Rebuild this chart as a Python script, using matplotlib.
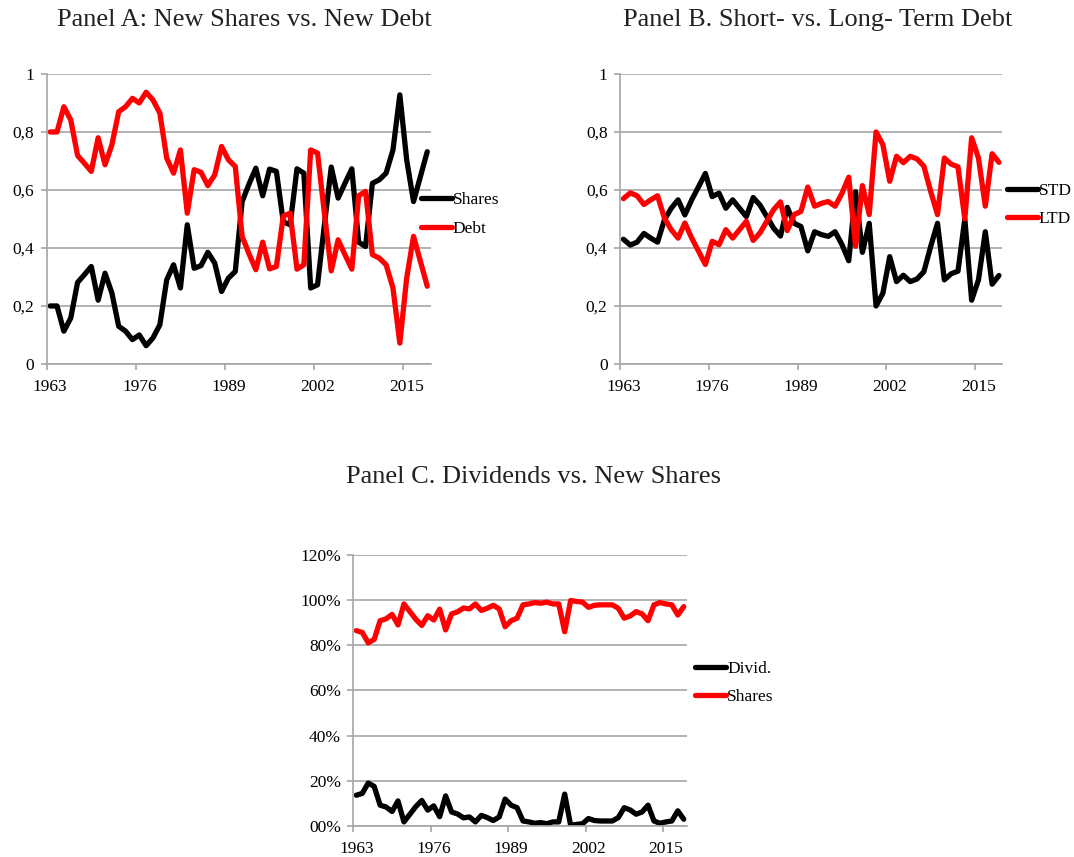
import matplotlib
matplotlib.use("Agg")
import matplotlib.pyplot as plt

plt.rcParams['font.family'] = ['Liberation Serif', 'DejaVu Serif']

years = list(range(1963, 2019))
label_years = [1963, 1976, 1989, 2002, 2015]

# Panel A: new shares vs new debt (fractions)
shares_a = [0.20, 0.20, 0.113, 0.158, 0.281, 0.308, 0.336, 0.22, 0.313, 0.245,
            0.13, 0.113, 0.084, 0.10, 0.063, 0.09, 0.135, 0.29, 0.342, 0.262,
            0.48, 0.33, 0.339, 0.385, 0.348, 0.25, 0.296, 0.319, 0.56, 0.62,
            0.675, 0.58, 0.672, 0.664, 0.49, 0.48, 0.673, 0.658, 0.262, 0.273,
            0.48, 0.679, 0.572, 0.623, 0.673, 0.42, 0.405, 0.623, 0.635, 0.658,
            0.738, 0.928, 0.704, 0.56, 0.646, 0.732]
debt_a = [0.80, 0.80, 0.887, 0.842, 0.719, 0.692, 0.664, 0.78, 0.687, 0.755,
          0.87, 0.887, 0.916, 0.90, 0.937, 0.91, 0.865, 0.71, 0.658, 0.738,
          0.52, 0.67, 0.661, 0.615, 0.652, 0.75, 0.704, 0.681, 0.44, 0.38,
          0.325, 0.42, 0.328, 0.336, 0.51, 0.52, 0.327, 0.342, 0.738, 0.727,
          0.52, 0.321, 0.428, 0.377, 0.327, 0.58, 0.595, 0.377, 0.365, 0.342,
          0.262, 0.072, 0.296, 0.44, 0.354, 0.268]

# Panel B: short- vs long-term debt
std_b = [0.43, 0.41, 0.42, 0.45, 0.434, 0.42, 0.497, 0.537, 0.566, 0.514,
         0.566, 0.611, 0.657, 0.577, 0.589, 0.537, 0.566, 0.537, 0.508, 0.574,
         0.548, 0.508, 0.468, 0.441, 0.54, 0.485, 0.474, 0.39, 0.456, 0.446,
         0.44, 0.456, 0.412, 0.356, 0.594, 0.385, 0.485, 0.20, 0.244, 0.37,
         0.284, 0.306, 0.284, 0.293, 0.318, 0.405, 0.485, 0.29, 0.311, 0.32,
         0.50, 0.22, 0.29, 0.456, 0.275, 0.305]
ltd_b = [0.57, 0.59, 0.58, 0.55, 0.566, 0.58, 0.503, 0.463, 0.434, 0.486,
         0.434, 0.389, 0.343, 0.423, 0.411, 0.463, 0.434, 0.463, 0.492, 0.426,
         0.452, 0.492, 0.532, 0.559, 0.46, 0.515, 0.526, 0.61, 0.544, 0.554,
         0.56, 0.544, 0.588, 0.644, 0.406, 0.615, 0.515, 0.80, 0.756, 0.63,
         0.716, 0.694, 0.716, 0.707, 0.682, 0.595, 0.515, 0.71, 0.689, 0.68,
         0.50, 0.78, 0.71, 0.544, 0.725, 0.695]

# Panel C: dividends vs new shares (percent)
divid_c = [13.6, 14.4, 19.0, 17.5, 9.2, 8.4, 6.4, 11.1, 1.8, 5.2,
           8.6, 11.3, 7.0, 8.9, 4.1, 13.3, 6.2, 5.3, 3.6, 4.0,
           1.8, 4.7, 3.7, 2.4, 4.0, 11.9, 9.2, 8.1, 2.2, 1.8,
           1.2, 1.5, 1.0, 1.8, 1.8, 14.1, 0.3, 0.7, 1.0, 3.3,
           2.4, 2.2, 2.2, 2.2, 3.7, 8.1, 7.1, 5.2, 6.2, 9.2,
           2.2, 1.2, 1.8, 2.2, 6.7, 3.0]
shares_c = [86.4, 85.6, 81.0, 82.5, 90.8, 91.6, 93.6, 88.9, 98.2, 94.8,
            91.4, 88.7, 93.0, 91.1, 95.9, 86.7, 93.8, 94.7, 96.4, 96.0,
            98.2, 95.3, 96.3, 97.6, 96.0, 88.1, 90.8, 91.9, 97.8, 98.2,
            98.8, 98.5, 99.0, 98.2, 98.2, 85.9, 99.7, 99.3, 99.0, 96.7,
            97.6, 97.8, 97.8, 97.8, 96.3, 91.9, 92.9, 94.8, 93.8, 90.8,
            97.8, 98.8, 98.2, 97.8, 93.3, 97.0]

yticks_ab = [0, 0.2, 0.4, 0.6, 0.8, 1.0]
ylabels_ab = ['0', '0,2', '0,4', '0,6', '0,8', '1']
yticks_c = [0, 20, 40, 60, 80, 100, 120]
ylabels_c = ['00%', '20%', '40%', '60%', '80%', '100%', '120%']

GRID = '#a6a6a6'
LW = 3.8

fig = plt.figure(figsize=(10.74, 8.57), dpi=100)


def setup(ax, yt, yl):
    n = len(years)
    ax.set_xlim(-0.5, n - 0.5)
    ax.set_ylim(yt[0], yt[-1])
    pos = [years.index(y) for y in label_years]
    ax.set_xticks(pos)
    ax.set_xticklabels([str(y) for y in label_years], fontsize=12.5)
    ax.set_xticks([p - 0.5 for p in pos], minor=True)
    ax.tick_params(axis='x', which='major', length=0, pad=11)
    ax.tick_params(axis='x', which='minor', length=4, width=1.2, color=GRID)
    ax.set_yticks(yt)
    ax.set_yticklabels(yl, fontsize=12.5)
    ax.tick_params(axis='y', length=4, width=1.2, color=GRID, pad=5)
    ax.grid(axis='y', color=GRID, linewidth=1.2)
    ax.set_axisbelow(True)
    for s in ['top', 'right']:
        ax.spines[s].set_visible(False)
    for s in ['left', 'bottom']:
        ax.spines[s].set_color(GRID)
        ax.spines[s].set_linewidth(1.2)


def draw(ax, s1, s2, names, leg_xy):
    x = range(len(years))
    ax.plot(x, s1, color='black', lw=LW, label=names[0],
            solid_joinstyle='round', solid_capstyle='round')
    ax.plot(x, s2, color='#ff0000', lw=LW, label=names[1],
            solid_joinstyle='round', solid_capstyle='round')
    ax.legend(loc='center left', bbox_to_anchor=leg_xy,
              bbox_transform=fig.transFigure, frameon=False, fontsize=12.5,
              borderpad=0, borderaxespad=0, handlelength=1.8,
              handletextpad=0.05, labelspacing=0.7)


ax_a = fig.add_axes([0.0435, 0.5753, 0.3575, 0.3384])
setup(ax_a, yticks_ab, ylabels_ab)
draw(ax_a, shares_a, debt_a, ['Shares', 'Debt'], (0.3917, 0.7497))

ax_b = fig.add_axes([0.5773, 0.5753, 0.356, 0.3384])
setup(ax_b, yticks_ab, ylabels_ab)
draw(ax_b, std_b, ltd_b, ['STD', 'LTD'], (0.9373, 0.7608))

ax_c = fig.add_axes([0.329, 0.0362, 0.3104, 0.3166])
setup(ax_c, yticks_c, ylabels_c)
draw(ax_c, divid_c, shares_c, ['Divid.', 'Shares'], (0.647, 0.203))

fig.text(0.2277, 0.9767, 'Panel A: New Shares vs. New Debt', fontsize=19,
         ha='center', va='center', color='#222222')
fig.text(0.7616, 0.9767, 'Panel B. Short- vs. Long- Term Debt', fontsize=19,
         ha='center', va='center', color='#222222')
fig.text(0.497, 0.4437, 'Panel C. Dividends vs. New Shares', fontsize=19,
         ha='center', va='center', color='#222222')

fig.savefig('out.png', dpi=100)
